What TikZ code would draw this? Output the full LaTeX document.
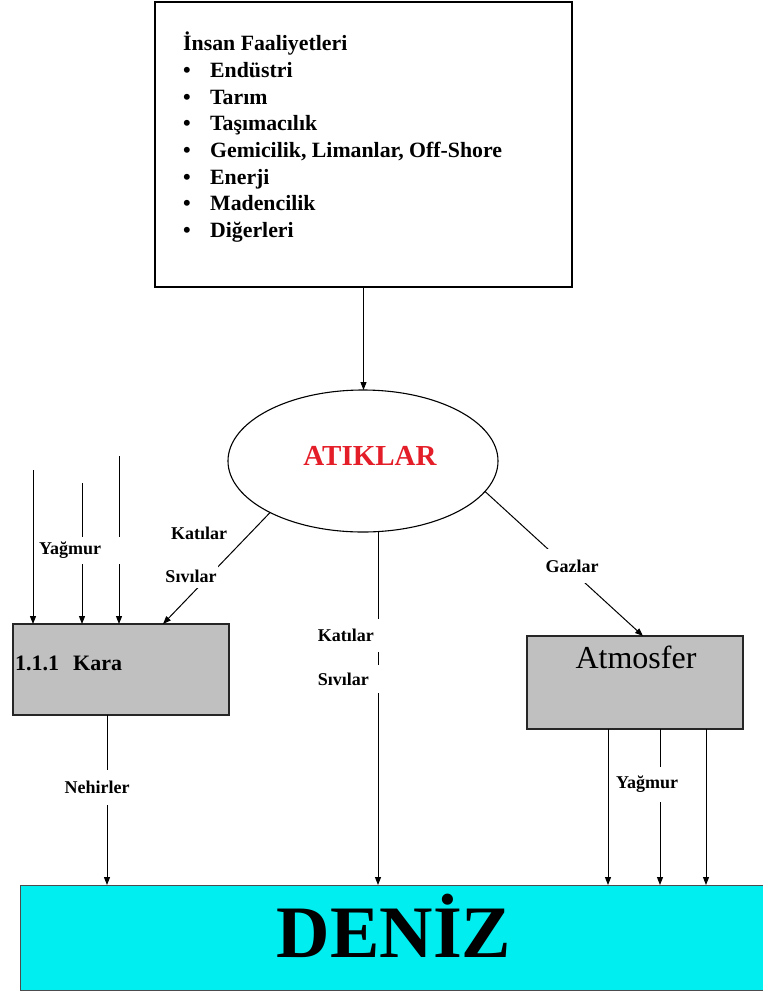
\documentclass[tikz,border=0pt]{standalone}
\usepackage{fontspec}
\setmainfont{Liberation Serif}
\usetikzlibrary{shapes.geometric,arrows.meta,calc}
\definecolor{boxgray}{RGB}{192,192,192}
\definecolor{seacyan}{RGB}{0,238,240}
\definecolor{atred}{RGB}{228,30,40}
\begin{document}
\begin{tikzpicture}[x=1pt,y=-1pt,
  arr/.style={draw=black, line width=1pt, -{Triangle[length=8pt,width=6pt]}},
  lbl/.style={fill=white, inner xsep=1pt, inner ysep=0pt, font=\fontsize{18}{21}\selectfont\bfseries},
  listline/.style={anchor=base west, inner sep=0pt, font=\fontsize{21.8}{26}\selectfont\bfseries},
  graybox/.style={draw=black!85, line width=1.2pt, fill=boxgray, inner sep=0pt, outer sep=0pt}]
\useasboundingbox (0,0) rectangle (763,994);

% top box
\node[draw, line width=1.2pt, minimum width=417pt, minimum height=285pt, inner sep=0pt, outer sep=0pt] (top) at (363.5,144.5) {};
\node[listline] (t0) at (183,50.7) {İnsan Faaliyetleri};
\node[listline] (t1) at (183,77.3) {\makebox[27pt][l]{\textbullet}Endüstri};
\node[listline] (t2) at (183,104) {\makebox[27pt][l]{\textbullet}Tarım};
\node[listline] (t3) at (183,130.7) {\makebox[27pt][l]{\textbullet}Taşımacılık};
\node[listline] (t4) at (183,157.3) {\makebox[27pt][l]{\textbullet}Gemicilik, Limanlar, Off-Shore};
\node[listline] (t5) at (183,184) {\makebox[27pt][l]{\textbullet}Enerji};
\node[listline] (t6) at (183,210.7) {\makebox[27pt][l]{\textbullet}Madencilik};
\node[listline] (t7) at (183,237.3) {\makebox[27pt][l]{\textbullet}Diğerleri};

% ellipse
\node[ellipse, draw, line width=1.1pt, minimum width=270pt, minimum height=142pt, inner sep=0pt, outer sep=0pt] (atik) at (363,461) {};
\node[anchor=base, inner sep=0pt, font=\fontsize{29}{32}\selectfont\bfseries, text=atred] (atikt) at (370,465) {ATIKLAR};

% boxes
\node[graybox, minimum width=216pt, minimum height=91pt] (kara) at (121,669.5) {};
\node[anchor=base west, inner sep=0pt, font=\fontsize{22}{24}\selectfont\bfseries] (karat) at (15,670) {1.1.1\hspace{14pt}Kara};
\node[graybox, minimum width=216pt, minimum height=93pt] (atm) at (635,682.5) {};
\node[anchor=base, inner sep=0pt, font=\fontsize{32}{34}\selectfont] (atmt) at (636,668) {Atmosfer};

% sea
\node[draw=black!70, line width=1pt, fill=seacyan, minimum width=745pt, minimum height=105pt, inner sep=0pt, outer sep=0pt] (deniz) at (392.5,937.5) {};
\node[anchor=base, inner sep=0pt, font=\fontsize{74}{80}\selectfont\bfseries] (denizt) at (394,957) {DENİZ};

% free rain starts
\coordinate (r1) at (33,470);
\coordinate (r2) at (82,483);
\coordinate (r3) at (119,456);

% connectors
\draw[arr] (top.south) -- (top.south |- atik.north);
\draw[arr] (atik.209) -- ([xshift=42pt]kara.north);
\draw[arr] (atik.-14.5) -- ([xshift=8pt]atm.north);
\draw[arr] ([xshift=15pt]atik.south) -- ([xshift=15pt]atik.south |- deniz.north);
\draw[arr] (r1) -- (r1 |- kara.north);
\draw[arr] (r2) -- (r2 |- kara.north);
\draw[arr] (r3) -- (r3 |- kara.north);
\draw[arr] ([xshift=-14pt]kara.south) -- ([xshift=-14pt]kara.south |- deniz.north);
\draw[arr] ([xshift=-27pt]atm.south) -- ([xshift=-27pt]atm.south |- deniz.north);
\draw[arr] ([xshift=25pt]atm.south) -- ([xshift=25pt]atm.south |- deniz.north);
\draw[arr] ([xshift=71pt]atm.south) -- ([xshift=71pt]atm.south |- deniz.north);

% labels
\node[lbl, anchor=west, text width=82pt, align=left, minimum height=27pt] (yag1) at (38,550) {Yağmur};
\node[lbl, minimum height=20pt] (kat1) at (199,533) {Katılar};
\node[lbl, minimum height=24pt] (siv1) at (191,576) {Sıvılar};
\node[lbl, anchor=east, text width=62pt, align=left, minimum height=33pt] (kat2) at (381,635.5) {Katılar};
\node[lbl, anchor=east, text width=62pt, align=left, minimum height=28pt] (siv2) at (381,679) {Sıvılar};
\node[lbl, minimum height=34pt] (gaz) at (572,566) {Gazlar};
\node[lbl, minimum height=35pt] (neh) at (97,787) {Nehirler};
\node[lbl, minimum height=35pt] (yag2) at (647,784) {Yağmur};
\end{tikzpicture}
\end{document}
